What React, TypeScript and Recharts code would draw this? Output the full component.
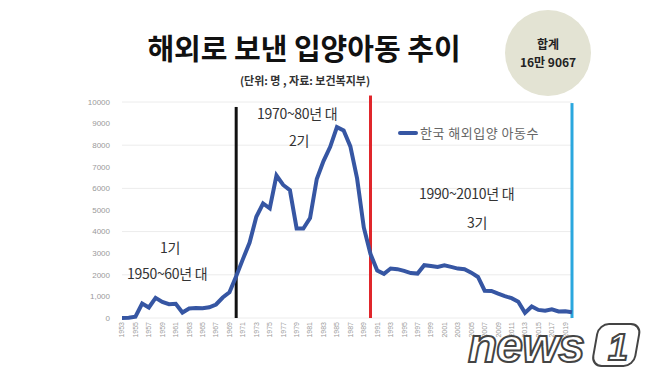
import { LineChart, Line, XAxis, YAxis, CartesianGrid, ReferenceLine } from 'recharts';

// 해외입양 아동수 (단위: 명, 자료: 보건복지부)
const YEARS = [
  1953, 1954, 1955, 1956, 1957, 1958, 1959, 1960, 1961, 1962, 1963, 1964, 1965, 1966, 1967, 1968, 1969,
  1970, 1971, 1972, 1973, 1974, 1975, 1976, 1977, 1978, 1979, 1980, 1981, 1982, 1983, 1984, 1985, 1986,
  1987, 1988, 1989, 1990, 1991, 1992, 1993, 1994, 1995, 1996, 1997, 1998, 1999, 2000, 2001, 2002, 2003,
  2004, 2005, 2006, 2007, 2008, 2009, 2010, 2011, 2012, 2013, 2014, 2015, 2016, 2017, 2018, 2019, 2020,
];
const ADOPTIONS = [
  4, 8, 59, 671, 486, 930, 741, 638, 660, 254, 442, 462, 451, 494, 626, 949, 1190,
  1932, 2725, 3490, 4688, 5302, 5077, 6597, 6159, 5917, 4148, 4144, 4628, 6434, 7263, 7924, 8837, 8680,
  7947, 6463, 4191, 2962, 2197, 2045, 2290, 2262, 2180, 2080, 2057, 2443, 2409, 2360, 2436, 2365, 2287,
  2258, 2101, 1899, 1264, 1250, 1125, 1013, 916, 755, 236, 535, 374, 334, 398, 303, 317, 266,
];
const Y_TICKS = [0, 1000, 2000, 3000, 4000, 5000, 6000, 7000, 8000, 9000, 10000];
const ERA_LINES = [
  { year: 1970, top: 9770, color: '#111111' },
  { year: 1990, top: 10300, color: '#e0262b' },
  { year: 2020, top: 9950, color: '#2aa7de' },
];
const SERIES_NAME = '한국 해외입양 아동수';

const data = YEARS.map((year, i) => ({ year, value: ADOPTIONS[i] }));

const KR = '"Noto Sans CJK KR", "Noto Sans", sans-serif';

function XTick({ x, y, payload }: any) {
  return (
    <text
      x={x}
      y={y}
      transform={`rotate(-90 ${x} ${y})`}
      textAnchor="end"
      dy="0.35em"
      fontSize={7}
      fill="#9a9a9a"
      fontFamily="Liberation Sans, Arial, sans-serif"
    >
      {payload.value}
    </text>
  );
}

const note = (left: number, top: number, text: string) => (
  <div
    style={{
      position: 'absolute',
      left,
      top,
      fontFamily: KR,
      fontSize: 14,
      color: '#333',
      whiteSpace: 'nowrap',
      letterSpacing: -0.3,
    }}
  >
    {text}
  </div>
);

export default function App() {
  return (
    <div style={{ position: 'absolute', left: 0, top: 0, width: 658, height: 382, background: '#fff', overflow: 'hidden' }}>
      <div
        style={{
          position: 'absolute',
          left: 128,
          top: 26,
          width: 352,
          textAlign: 'center',
          fontFamily: KR,
          fontWeight: 700,
          fontSize: 29,
          color: '#111',
          whiteSpace: 'nowrap',
        }}
      >
        해외로 보낸 입양아동 추이
      </div>
      <div
        style={{
          position: 'absolute',
          left: 200,
          top: 72,
          width: 210,
          textAlign: 'center',
          fontFamily: KR,
          fontWeight: 700,
          fontSize: 11,
          color: '#333',
        }}
      >
        (단위: 명 , 자료: 보건복지부)
      </div>
      <div
        style={{
          position: 'absolute',
          left: 505,
          top: 10,
          width: 86,
          height: 86,
          borderRadius: '50%',
          background: '#e3e3d3',
          display: 'flex',
          flexDirection: 'column',
          alignItems: 'center',
          justifyContent: 'center',
          fontFamily: KR,
          fontWeight: 700,
          fontSize: 12,
          color: '#222',
          lineHeight: '18px',
        }}
      >
        <div>합계</div>
        <div>16만 9067</div>
      </div>

      <div style={{ position: 'absolute', left: 0, top: 0 }}>
        <LineChart width={658} height={382} data={data} margin={{ top: 102, right: 86, bottom: 34, left: 82 }}>
          <CartesianGrid vertical={false} stroke="#ececec" />
          <XAxis
            dataKey="year"
            interval={1}
            axisLine={false}
            tickLine={false}
            tick={<XTick />}
            height={30}
            tickSize={0}
            tickMargin={4}
          />
          <YAxis
            width={40}
            domain={[0, 10000]}
            ticks={Y_TICKS}
            axisLine={false}
            tickLine={false}
            tickSize={0}
            tickMargin={12}
            tick={{ fontSize: 8, fill: '#9a9a9a', fontFamily: 'Liberation Sans, Arial, sans-serif' }}
            tickFormatter={(v: number) => (v === 1000 ? '1,000' : String(v))}
          />
          {ERA_LINES.map((l) => (
            <ReferenceLine
              key={l.year}
              segment={[
                { x: l.year, y: 0 },
                { x: l.year, y: l.top },
              ]}
              stroke={l.color}
              strokeWidth={3}
              ifOverflow="visible"
            />
          ))}
          <Line
            type="linear"
            dataKey="value"
            name={SERIES_NAME}
            stroke="#3656a3"
            strokeWidth={4}
            dot={false}
            isAnimationActive={false}
          />
        </LineChart>
      </div>

      {/* legend */}
      <div style={{ position: 'absolute', left: 398, top: 123, display: 'flex', alignItems: 'center' }}>
        <div style={{ width: 20, height: 4, background: '#3656a3', borderRadius: 2 }} />
        <span style={{ fontFamily: KR, fontSize: 13, color: '#666', marginLeft: 2, letterSpacing: 0.5 }}>{SERIES_NAME}</span>
      </div>

      {note(160, 237, '1기')}
      {note(127, 263, '1950~60년 대')}
      {note(257, 103, '1970~80년 대')}
      {note(289, 130, '2기')}
      {note(419, 183, '1990~2010년 대')}
      {note(467, 212, '3기')}

      {/* news1 watermark */}
      <svg style={{ position: 'absolute', left: 460, top: 318 }} width={198} height={60}>
        <text
          x={8}
          y={44}
          fontFamily="Liberation Sans, Arial, sans-serif"
          fontStyle="italic"
          fontWeight={700}
          fontSize={48}
          fill="#ffffff"
          stroke="#444"
          strokeWidth={2}
          letterSpacing={-1}
        >
          news
        </text>
        <rect x={140} y={6} width={42} height={42} rx={10} fill="#fff" stroke="#444" strokeWidth={2} transform="skewX(-10)" />
        <text x={148} y={42} fontFamily="Liberation Sans, Arial, sans-serif" fontStyle="italic" fontWeight={700} fontSize={36} fill="#fff" stroke="#444" strokeWidth={2}>
          1
        </text>
      </svg>
    </div>
  );
}
